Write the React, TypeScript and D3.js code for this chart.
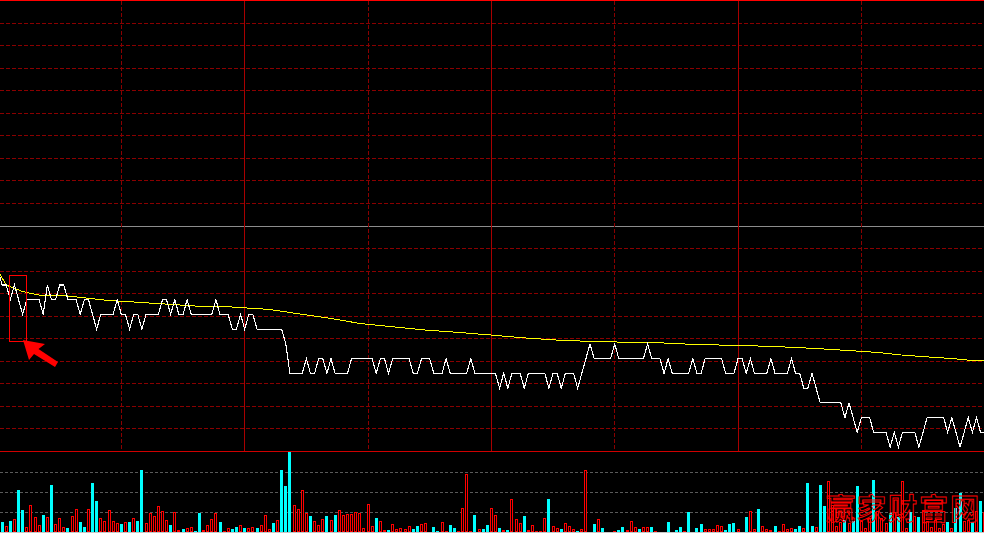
import React from "react";
import * as d3 from "d3";

const WIDTH = 984;
const HEIGHT = 533;
const PREV_CLOSE = 10.0;
const PRICE_SPAN = 0.153;
const LAST_MINUTE = 240;

// minute-by-minute price (241 points, 9:30 .. 15:00)
const prices = [
  9.97, 9.96, 9.96, 9.95, 9.96, 9.95, 9.94, 9.95, 9.95, 9.95,
  9.95, 9.94, 9.96, 9.95, 9.95, 9.96, 9.96, 9.95, 9.95, 9.95,
  9.94, 9.95, 9.95, 9.94, 9.93, 9.94, 9.94, 9.94, 9.94, 9.95,
  9.94, 9.94, 9.93, 9.94, 9.94, 9.93, 9.94, 9.94, 9.94, 9.94,
  9.95, 9.95, 9.94, 9.95, 9.94, 9.94, 9.95, 9.94, 9.94, 9.94,
  9.94, 9.94, 9.94, 9.95, 9.94, 9.94, 9.94, 9.93, 9.93, 9.94,
  9.93, 9.94, 9.94, 9.93, 9.93, 9.93, 9.93, 9.93, 9.93, 9.93,
  9.92, 9.90, 9.90, 9.90, 9.90, 9.91, 9.90, 9.90, 9.91, 9.91,
  9.90, 9.91, 9.90, 9.90, 9.90, 9.90, 9.91, 9.91, 9.91, 9.91,
  9.91, 9.91, 9.90, 9.91, 9.91, 9.90, 9.91, 9.91, 9.91, 9.91,
  9.91, 9.90, 9.90, 9.91, 9.91, 9.91, 9.90, 9.90, 9.90, 9.91,
  9.90, 9.90, 9.90, 9.90, 9.90, 9.91, 9.90, 9.90, 9.90, 9.90,
  9.90, 9.90, 9.89, 9.90, 9.89, 9.90, 9.90, 9.90, 9.89, 9.90,
  9.90, 9.90, 9.90, 9.90, 9.89, 9.90, 9.90, 9.89, 9.90, 9.90,
  9.90, 9.89, 9.90, 9.91, 9.92, 9.91, 9.91, 9.91, 9.91, 9.91,
  9.92, 9.91, 9.91, 9.91, 9.91, 9.91, 9.91, 9.91, 9.92, 9.91,
  9.91, 9.91, 9.90, 9.91, 9.90, 9.90, 9.90, 9.90, 9.90, 9.91,
  9.90, 9.90, 9.91, 9.91, 9.91, 9.91, 9.91, 9.90, 9.90, 9.90,
  9.91, 9.91, 9.90, 9.91, 9.90, 9.90, 9.90, 9.90, 9.91, 9.90,
  9.90, 9.90, 9.90, 9.91, 9.90, 9.90, 9.89, 9.89, 9.90, 9.89,
  9.88, 9.88, 9.88, 9.88, 9.88, 9.88, 9.87, 9.88, 9.87, 9.86,
  9.87, 9.87, 9.87, 9.86, 9.86, 9.86, 9.86, 9.85, 9.86, 9.85,
  9.86, 9.86, 9.86, 9.86, 9.85, 9.86, 9.87, 9.87, 9.87, 9.87,
  9.87, 9.86, 9.87, 9.86, 9.85, 9.86, 9.87, 9.86, 9.87, 9.86,
  9.86,
];

// average price line, read at these minutes
const avgMinutes = [
  0, 2, 6, 10, 16, 26, 36, 48, 56, 66, 72, 80, 88, 96, 104, 112, 120,
  128, 136, 144, 152, 160, 168, 176, 186, 194, 200, 208, 214, 220, 226,
  232, 236, 240,
];
const avgPrices = [
  9.9696, 9.9599, 9.9555, 9.9531, 9.9528, 9.9497, 9.9479, 9.9457, 9.9452,
  9.9434, 9.9409, 9.9377, 9.9339, 9.9316, 9.9294, 9.9278, 9.926, 9.9241,
  9.9226, 9.9217, 9.9212, 9.9209, 9.9198, 9.9192, 9.9185, 9.9176, 9.9167,
  9.9153, 9.9142, 9.9124, 9.9112, 9.9101, 9.909, 9.9085,
];

// minute volumes (lots x100)
const volumes = [
  42, 52, 32, 57, 67, 212, 112, 25, 137, 77,
  37, 87, 77, 237, 42, 72, 25, 22, 82, 117,
  52, 27, 117, 247, 157, 72, 57, 112, 57, 47,
  42, 52, 52, 72, 57, 312, 47, 97, 82, 132,
  107, 62, 37, 102, 12, 17, 22, 27, 7, 97,
  12, 37, 67, 97, 52, 7, 22, 17, 27, 37,
  22, 22, 27, 22, 37, 87, 17, 47, 62, 312,
  232, 400, 137, 117, 212, 97, 82, 57, 37, 67,
  82, 62, 87, 112, 87, 92, 92, 102, 97, 22,
  142, 32, 72, 57, 12, 12, 42, 17, 22, 17,
  32, 17, 32, 42, 47, 0, 27, 7, 52, 7,
  37, 22, 7, 122, 292, 7, 87, 17, 17, 37,
  122, 87, 22, 12, 12, 167, 67, 47, 82, 12,
  37, 7, 7, 72, 167, 32, 22, 17, 47, 32,
  17, 7, 17, 312, 0, 42, 67, 22, 0, 0,
  7, 12, 27, 12, 57, 27, 17, 27, 27, 27,
  5, 0, 0, 52, 0, 12, 27, 7, 102, 0,
  22, 42, 17, 17, 17, 37, 32, 12, 42, 47,
  17, 0, 77, 107, 17, 117, 32, 17, 12, 32,
  7, 42, 17, 22, 17, 32, 22, 247, 32, 27,
  237, 132, 257, 137, 32, 52, 62, 47, 57, 232,
  57, 22, 72, 262, 107, 72, 47, 97, 102, 77,
  257, 22, 102, 82, 77, 112, 57, 27, 62, 22,
  42, 52, 22, 122, 197, 57, 62, 52, 107, 157,
  102,
];

// u = up tick (red hollow), d = down tick (cyan solid)
const volumeSide = (
  "ddududduuu" + "ududuuuduu" + "ddudduuuuu" + "dududduuuu" +
  "uuduuduudd" + "uuuuduuddu" + "duuduuudud" + "dduuuuduuu" +
  "duduuuuuuu" + "uuduuduuuu" + "udduuudduu" + "dduuuududd" +
  "uududuuudu" + "uuuuduuduu" + "uduuududuu" + "udduuuduud" +
  "uuududdudu" + "dduuuuuddd" + "uuduuduuud" + "uuuudduddu" +
  "dduuuududd" + "uuuduuudud" + "uududuuuuu" + "ududduudud" + "u"
).split("");

const watermark = "赢家财富网";

export default function App() {
  const x = d3.scaleLinear().domain([0, LAST_MINUTE]).range([-2, 984.7]);
  const y = d3
    .scaleLinear()
    .domain([PREV_CLOSE - PRICE_SPAN, PREV_CLOSE + PRICE_SPAN])
    .range([451.5, 0.5]);
  const yv = d3.scaleLinear().domain([0, 400]).range([532, 452]);

  const priceLine = d3
    .line<number>()
    .x((_, i) => x(i))
    .y((d) => y(d))(prices) as string;
  const avgLine = d3
    .line<number>()
    .x((_, i) => x(avgMinutes[i]))
    .y((d) => y(d))(avgPrices) as string;

  const hLevels = d3.range(21).map((j) => PREV_CLOSE - PRICE_SPAN + (j * PRICE_SPAN * 2) / 20);
  const vMinutes = d3.range(30, LAST_MINUTE, 30);
  const volTicks = [100, 200, 300];

  return (
    <svg
      width={WIDTH}
      height={HEIGHT}
      style={{ position: "absolute", left: 0, top: 0, display: "block", background: "#000" }}
    >
      <rect x={0} y={0} width={WIDTH} height={HEIGHT} fill="#000" />
      {/* horizontal price grid */}
      {hLevels.map((p, j) => {
        const yy = Math.floor(y(p)) + 0.5;
        if (j === 20)
          return <line key={j} x1={0} x2={WIDTH} y1={0.5} y2={0.5} stroke="#ff0000" strokeWidth={1.2} />;
        if (j === 0)
          return <line key={j} x1={0} x2={WIDTH} y1={451.5} y2={451.5} stroke="#d00000" strokeWidth={1} />;
        if (j === 10)
          return <line key={j} x1={0} x2={WIDTH} y1={yy} y2={yy} stroke="#8c8c8c" strokeWidth={1} />;
        return (
          <line key={j} x1={0} x2={WIDTH} y1={yy} y2={yy} stroke="#8a0000" strokeWidth={1} strokeDasharray="4 2" />
        );
      })}
      {/* vertical time grid */}
      {vMinutes.map((m) => {
        const xx = Math.floor(x(m)) + 0.5;
        const solid = m % 60 === 0;
        return (
          <line
            key={m}
            x1={xx}
            x2={xx}
            y1={1}
            y2={451}
            stroke={solid ? "#a80000" : "#8a0000"}
            strokeWidth={1}
            strokeDasharray={solid ? undefined : "4 2"}
          />
        );
      })}
      {/* volume grid */}
      {volTicks.map((v) => {
        const yy = Math.floor(yv(v)) + 0.5;
        return <line key={v} x1={0} x2={WIDTH} y1={yy} y2={yy} stroke="#5a5a5a" strokeWidth={1} strokeDasharray="3 2" />;
      })}
      {/* volume bars */}
      {volumes.map((v, i) => {
        if (v <= 0) return null;
        const left = Math.round(x(i) - 1.5);
        const top = Math.round(yv(v));
        const h = Math.max(532 - top, 1);
        if (volumeSide[i] === "d") {
          return <rect key={i} x={left} y={532 - h} width={3} height={h} fill="#00ffff" shapeRendering="crispEdges" />;
        }
        return (
          <g key={i} shapeRendering="crispEdges">
            <rect x={left} y={532 - h} width={3} height={h} fill="#ff0000" />
            {h > 2 && <rect x={left + 1} y={532 - h + 1} width={1} height={h - 2} fill="#000" />}
          </g>
        );
      })}
      <line x1={0} x2={WIDTH} y1={532.5} y2={532.5} stroke="#c8c8c8" strokeWidth={1} />
      {/* average price line */}
      <path d={avgLine} fill="none" stroke="#ffff00" strokeWidth={1} shapeRendering="crispEdges" />
      {/* price line */}
      <path d={priceLine} fill="none" stroke="#ffffff" strokeWidth={1.1} shapeRendering="crispEdges" />
      {/* annotation */}
      <rect x={9.5} y={275.5} width={17} height={66} fill="none" stroke="#ff0000" strokeWidth={1} />
      <polygon
        points="23,340 45,344 38.5,349 58,362 55,367 34,354 29,360"
        fill="#ff0000"
      />
      {/* watermark */}
      <text
        x={826}
        y={520}
        fontFamily="'Noto Sans CJK SC', sans-serif"
        fontSize={29}
        fontWeight={700}
        letterSpacing={2}
        fill="none"
        stroke="#ff0000"
        strokeWidth={0.9}
      >
        {watermark}
      </text>
    </svg>
  );
}
